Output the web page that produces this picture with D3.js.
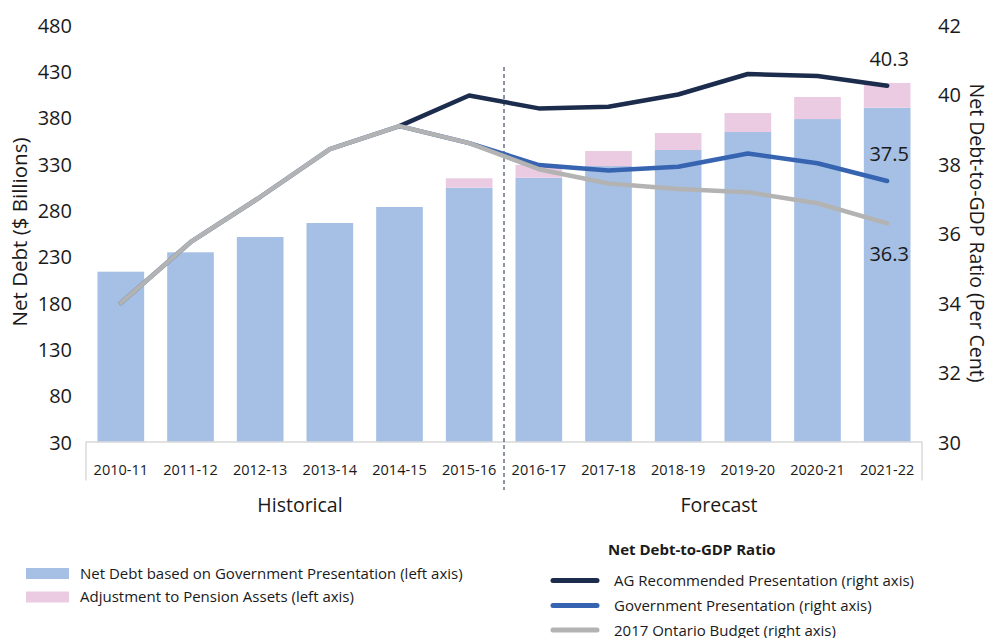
<!DOCTYPE html>
<html>
<head>
<meta charset="utf-8">
<script src="https://cdn.jsdelivr.net/npm/d3@7"></script>
<style>
  html, body { margin: 0; padding: 0; background: #fff; }
  svg { display: block; font-family: "Open Sans", "Noto Sans", sans-serif; }
</style>
</head>
<body>
<svg id="chart" width="990" height="638"></svg>
<script>
// ---- Data ----
const categories = ["2010-11","2011-12","2012-13","2013-14","2014-15","2015-16","2016-17","2017-18","2018-19","2019-20","2020-21","2021-22"];
const netDebtGov = [213.8, 234.7, 251.2, 266.3, 283.6, 304.4, 315.2, 327.8, 345.1, 364.5, 378.5, 390.7];
const pensionAdj = [0, 0, 0, 0, 0, 10.2, 13.8, 16.2, 18.3, 20.5, 23.8, 26.7];
const agRatio     = [null, null, null, null, 39.09, 39.97, 39.6, 39.65, 40.0, 40.59, 40.53, 40.25];
const govRatio    = [34.0, 35.75, 37.05, 38.43, 39.09, 38.6, 37.97, 37.81, 37.92, 38.3, 38.02, 37.51];
const budgetRatio = [34.0, 35.75, 37.05, 38.43, 39.09, 38.6, 37.85, 37.44, 37.28, 37.19, 36.87, 36.29];
const endLabels = ["40.3", "37.5", "36.3"];
const leftTicks = [30, 80, 130, 180, 230, 280, 330, 380, 430, 480];
const rightTicks = [30, 32, 34, 36, 38, 40, 42];

// ---- Styles ----
const C = {
  bar: "#a5c0e4", pink: "#ebcbe1", ag: "#1c2c4c", gov: "#3764b0", budget: "#b3b3b3",
  axis: "#d9d9d9", text: "#1a1a1a"
};

const svg = d3.select("#chart");
const plot = { left: 86, right: 922, top: 25, bottom: 442 };

const x = d3.scaleBand().domain(categories).range([plot.left, plot.right])
  .paddingInner(0.33).paddingOuter(0.165);
const yL = d3.scaleLinear().domain([30, 480]).range([plot.bottom, plot.top]);
const yR = d3.scaleLinear().domain([30, 42]).range([plot.bottom, plot.top]);
const cx = c => x(c) + x.bandwidth() / 2;

// ---- Bars ----
const gBars = svg.append("g");
gBars.selectAll("rect.base").data(categories).join("rect")
  .attr("class", "base")
  .attr("x", d => x(d)).attr("width", x.bandwidth())
  .attr("y", (d, i) => yL(netDebtGov[i]))
  .attr("height", (d, i) => yL(30) - yL(netDebtGov[i]))
  .attr("fill", C.bar);
gBars.selectAll("rect.adj").data(categories).join("rect")
  .attr("class", "adj")
  .attr("x", d => x(d)).attr("width", x.bandwidth())
  .attr("y", (d, i) => yL(netDebtGov[i] + pensionAdj[i]))
  .attr("height", (d, i) => yL(netDebtGov[i]) - yL(netDebtGov[i] + pensionAdj[i]))
  .attr("fill", C.pink);

// ---- Bottom axis frame ----
const gx = svg.append("g").attr("transform", `translate(0,${plot.bottom})`)
  .call(d3.axisBottom(x).tickSize(0).tickPadding(0));
gx.select(".domain").remove();
gx.selectAll(".tick text").remove();
gx.append("path").attr("d", `M${plot.left},38.5V0H${plot.right}V38.5`)
  .attr("fill", "none").attr("stroke", C.axis).attr("stroke-width", 1.5);

svg.append("g").selectAll("text").data(categories).join("text")
  .attr("x", d => cx(d)).attr("y", 475)
  .attr("text-anchor", "middle").attr("font-size", 14.5).attr("fill", C.text)
  .text(d => d);

// ---- Left axis ----
const gl = svg.append("g").attr("transform", `translate(72,0)`)
  .call(d3.axisLeft(yL).tickValues(leftTicks).tickSize(0).tickPadding(0));
gl.select(".domain").remove();
gl.selectAll(".tick text").attr("font-size", 20).attr("fill", C.text)
  .attr("font-family", "'Open Sans', sans-serif").attr("dy", "0.35em");

// ---- Right axis ----
const gr = svg.append("g").attr("transform", `translate(938,0)`)
  .call(d3.axisRight(yR).tickValues(rightTicks).tickSize(0).tickPadding(0));
gr.select(".domain").remove();
gr.selectAll(".tick text").attr("font-size", 20).attr("fill", C.text)
  .attr("font-family", "'Open Sans', sans-serif").attr("dy", "0.35em");

// Axis titles
svg.append("text").attr("transform", "translate(27,232) rotate(-90)")
  .attr("text-anchor", "middle").attr("font-size", 20.5).attr("fill", C.text)
  .text("Net Debt ($ Billions)");
svg.append("text").attr("transform", "translate(970,233) rotate(90)")
  .attr("text-anchor", "middle").attr("font-size", 19.5).attr("fill", C.text)
  .text("Net Debt-to-GDP Ratio (Per Cent)");

// ---- Dashed divider ----
const divX = (x(categories[5]) + x.bandwidth() + x(categories[6])) / 2;
svg.append("line").attr("x1", divX).attr("x2", divX).attr("y1", 67).attr("y2", 490)
  .attr("stroke", C.ag).attr("stroke-width", 1).attr("stroke-dasharray", "4,3");

// ---- Lines ----
const lineGen = d3.line()
  .defined(d => d.v != null)
  .x(d => cx(d.c)).y(d => yR(d.v));
const series = [
  { vals: agRatio, color: C.ag },
  { vals: govRatio, color: C.gov },
  { vals: budgetRatio, color: C.budget }
];
series.forEach(s => {
  svg.append("path")
    .datum(categories.map((c, i) => ({ c, v: s.vals[i] })))
    .attr("d", lineGen)
    .attr("fill", "none").attr("stroke", s.color).attr("stroke-width", 4.5)
    .attr("stroke-linecap", "round").attr("stroke-linejoin", "round");
});

// ---- End labels ----
const last = categories[categories.length - 1];
svg.append("text").attr("x", cx(last) + 2).attr("y", 66).attr("text-anchor", "middle")
  .attr("font-size", 20).attr("fill", C.text).text(endLabels[0]);
svg.append("text").attr("x", cx(last) + 2).attr("y", 161).attr("text-anchor", "middle")
  .attr("font-size", 20).attr("fill", C.text).text(endLabels[1]);
svg.append("text").attr("x", cx(last) + 2).attr("y", 261).attr("text-anchor", "middle")
  .attr("font-size", 20).attr("fill", C.text).text(endLabels[2]);

// ---- Period labels ----
const histMid = (x(categories[0]) + x(categories[5]) + x.bandwidth()) / 2 + 5;
const foreMid = (x(categories[6]) + x(categories[11]) + x.bandwidth()) / 2 + 6;
svg.append("text").attr("x", histMid).attr("y", 512).attr("text-anchor", "middle")
  .attr("font-size", 19.5).attr("fill", C.text).text("Historical");
svg.append("text").attr("x", foreMid).attr("y", 512).attr("text-anchor", "middle")
  .attr("font-size", 19.5).attr("fill", C.text).text("Forecast");

// ---- Legend ----
const legL = svg.append("g");
[["Net Debt based on Government Presentation (left axis)", C.bar, 568],
 ["Adjustment to Pension Assets (left axis)", C.pink, 591.5]].forEach(([t, col, y]) => {
  legL.append("rect").attr("x", 26).attr("y", y).attr("width", 43).attr("height", 11).attr("fill", col);
  legL.append("text").attr("x", 80).attr("y", y + 10.5).attr("font-size", 15)
    .attr("fill", C.text).text(t);
});

const legR = svg.append("g");
legR.append("text").attr("x", 608).attr("y", 555).attr("font-size", 15)
  .attr("font-weight", "bold").attr("fill", C.text).text("Net Debt-to-GDP Ratio");
[["AG Recommended Presentation (right axis)", C.ag, 580.5],
 ["Government Presentation (right axis)", C.gov, 605.5],
 ["2017 Ontario Budget (right axis)", C.budget, 630]].forEach(([t, col, y]) => {
  legR.append("line").attr("x1", 553).attr("x2", 597).attr("y1", y).attr("y2", y)
    .attr("stroke", col).attr("stroke-width", 5).attr("stroke-linecap", "round");
  legR.append("text").attr("x", 614).attr("y", y + 5.5).attr("font-size", 15)
    .attr("fill", C.text).text(t);
});
</script>
</body>
</html>
